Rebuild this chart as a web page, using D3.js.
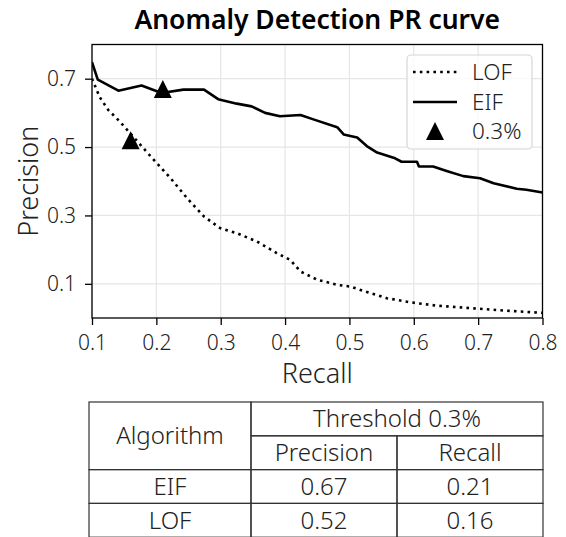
<!DOCTYPE html>
<html>
<head>
<meta charset="UTF-8">
<title>Anomaly Detection PR curve</title>
<style>
  body { margin: 0; background: #fff; }
  text { font-family: "Noto Sans", sans-serif; fill: #222; font-weight: 300; }
</style>
</head>
<body>
<div id="chart"></div>
<script src="https://d3js.org/d3.v7.min.js"></script>
<script>
// curves
var eifRecall = [0.100, 0.109, 0.141, 0.177, 0.208, 0.242, 0.274, 0.296, 0.325, 0.348, 0.369, 0.392, 0.424, 0.444, 0.481, 0.491, 0.512, 0.527, 0.543, 0.571, 0.581, 0.605, 0.608, 0.630, 0.651, 0.677, 0.703, 0.724, 0.760, 0.775, 0.800];
var eifPrecision = [0.748, 0.697, 0.665, 0.680, 0.658, 0.668, 0.668, 0.640, 0.627, 0.619, 0.600, 0.590, 0.594, 0.581, 0.558, 0.537, 0.528, 0.503, 0.484, 0.467, 0.457, 0.457, 0.443, 0.443, 0.430, 0.415, 0.409, 0.394, 0.378, 0.375, 0.367];

var lofRecall = [0.100, 0.112, 0.125, 0.143, 0.159, 0.192, 0.222, 0.248, 0.274, 0.299, 0.325, 0.356, 0.387, 0.408, 0.424, 0.450, 0.481, 0.501, 0.532, 0.558, 0.594, 0.636, 0.687, 0.739, 0.800];
var lofPrecision = [0.700, 0.646, 0.609, 0.575, 0.541, 0.471, 0.409, 0.350, 0.297, 0.263, 0.248, 0.224, 0.190, 0.170, 0.136, 0.112, 0.097, 0.092, 0.073, 0.058, 0.046, 0.036, 0.029, 0.022, 0.015];

// threshold 0.3% points (also the table)
var algorithms = ["EIF", "LOF"];
var thrPrecision = [0.67, 0.52];
var thrRecall = [0.21, 0.16];

var xTicks = [0.1, 0.2, 0.3, 0.4, 0.5, 0.6, 0.7, 0.8];
var yTicks = [0.1, 0.3, 0.5, 0.7];
var legendLabels = ["LOF", "EIF", "0.3%"];

var width = 566, height = 537;
var plot = { left: 92, right: 542.5, top: 44.5, bottom: 318 };

var svg = d3.select("#chart").append("svg")
  .attr("width", width)
  .attr("height", height);

var x = d3.scaleLinear().domain([0.1, 0.8]).range([plot.left, plot.right]);
var y = d3.scaleLinear().domain([0, 0.8]).range([plot.bottom, plot.top]);

// title
svg.append("text")
  .attr("x", (plot.left + plot.right) / 2)
  .attr("y", 28.5)
  .attr("text-anchor", "middle")
  .attr("font-size", "26.5px")
  .style("font-weight", 600)
  .style("fill", "#000")
  .text("Anomaly Detection PR curve");

// grid
var grid = svg.append("g").attr("stroke", "#e6e6e6").attr("stroke-width", 1.2);
grid.selectAll("line.gx").data(xTicks).join("line")
  .attr("class", "gx")
  .attr("x1", d => x(d)).attr("x2", d => x(d))
  .attr("y1", plot.top).attr("y2", plot.bottom);
grid.selectAll("line.gy").data(yTicks).join("line")
  .attr("class", "gy")
  .attr("x1", plot.left).attr("x2", plot.right)
  .attr("y1", d => y(d)).attr("y2", d => y(d));

// axes
var xAxis = svg.append("g")
  .attr("transform", "translate(0," + plot.bottom + ")")
  .call(d3.axisBottom(x).tickValues(xTicks).tickFormat(d3.format(".1f")).tickSize(7).tickPadding(10));
var yAxis = svg.append("g")
  .attr("transform", "translate(" + plot.left + ",0)")
  .call(d3.axisLeft(y).tickValues(yTicks).tickFormat(d3.format(".1f")).tickSize(7).tickPadding(9));
[xAxis, yAxis].forEach(function(a) {
  a.select(".domain").remove();
  a.selectAll("line").attr("stroke", "#000").attr("stroke-width", 1.3);
  a.selectAll("text").attr("font-size", "21px").attr("font-family", null);
});

// curves
var lineGen = d3.line().x(d => x(d[0])).y(d => y(d[1]));
var clipId = "plotclip";
svg.append("clipPath").attr("id", clipId).append("rect")
  .attr("x", plot.left).attr("y", plot.top)
  .attr("width", plot.right - plot.left).attr("height", plot.bottom - plot.top);

var curves = svg.append("g").attr("clip-path", "url(#" + clipId + ")");
curves.append("path")
  .datum(d3.zip(lofRecall, lofPrecision))
  .attr("d", lineGen)
  .attr("fill", "none")
  .attr("stroke", "#000")
  .attr("stroke-width", 2.6)
  .attr("stroke-dasharray", "2.6,4.2");
curves.append("path")
  .datum(d3.zip(eifRecall, eifPrecision))
  .attr("d", lineGen)
  .attr("fill", "none")
  .attr("stroke", "#000")
  .attr("stroke-width", 2.6)
  .attr("stroke-linejoin", "round");

// triangle marker like matplotlib '^'
function tri(cx, cy, r) {
  return "M" + cx + "," + (cy - r) + "L" + (cx + r) + "," + (cy + r) + "L" + (cx - r) + "," + (cy + r) + "Z";
}
svg.append("g").selectAll("path")
  .data(d3.zip(thrRecall, thrPrecision))
  .join("path")
  .attr("d", d => tri(x(d[0]), y(d[1]), 9))
  .attr("fill", "#000");

// frame
svg.append("rect")
  .attr("x", plot.left).attr("y", plot.top)
  .attr("width", plot.right - plot.left).attr("height", plot.bottom - plot.top)
  .attr("fill", "none").attr("stroke", "#000").attr("stroke-width", 1.3);

// legend
var lg = svg.append("g");
lg.append("rect")
  .attr("x", 407).attr("y", 55).attr("width", 125).attr("height", 94)
  .attr("rx", 4)
  .attr("fill", "#fff").attr("fill-opacity", 0.8)
  .attr("stroke", "#d6d6d6").attr("stroke-width", 1.2);
var rowY = [72, 102, 131];
lg.append("line").attr("x1", 413).attr("x2", 457).attr("y1", rowY[0]).attr("y2", rowY[0])
  .attr("stroke", "#000").attr("stroke-width", 2.6).attr("stroke-dasharray", "2.6,4.2");
lg.append("line").attr("x1", 413).attr("x2", 457).attr("y1", rowY[1]).attr("y2", rowY[1])
  .attr("stroke", "#000").attr("stroke-width", 2.6);
lg.append("path").attr("d", tri(435, rowY[2], 9)).attr("fill", "#000");
lg.selectAll("text").data(legendLabels).join("text")
  .attr("x", 472)
  .attr("y", (d, i) => rowY[i] + 8)
  .attr("font-size", "22.5px")
  .text(d => d);

// axis labels
svg.append("text")
  .attr("x", (plot.left + plot.right) / 2)
  .attr("y", 383)
  .attr("text-anchor", "middle")
  .attr("font-size", "27px")
  .text("Recall");
svg.append("text")
  .attr("transform", "translate(38," + ((plot.top + plot.bottom) / 2) + ") rotate(-90)")
  .attr("text-anchor", "middle")
  .attr("font-size", "27px")
  .text("Precision");

// table
var colX = [89, 251, 397, 543];
var rowH = 33.8, tTop = 402;
var cells = [
  { c0: 0, c1: 1, r0: 0, r1: 2, text: "Algorithm" },
  { c0: 1, c1: 3, r0: 0, r1: 1, text: "Threshold 0.3%" },
  { c0: 1, c1: 2, r0: 1, r1: 2, text: "Precision" },
  { c0: 2, c1: 3, r0: 1, r1: 2, text: "Recall" }
];
algorithms.forEach(function(a, i) {
  cells.push({ c0: 0, c1: 1, r0: 2 + i, r1: 3 + i, text: a });
  cells.push({ c0: 1, c1: 2, r0: 2 + i, r1: 3 + i, text: d3.format(".2f")(thrPrecision[i]) });
  cells.push({ c0: 2, c1: 3, r0: 2 + i, r1: 3 + i, text: d3.format(".2f")(thrRecall[i]) });
});
var tg = svg.append("g");
tg.selectAll("rect").data(cells).join("rect")
  .attr("x", d => colX[d.c0]).attr("y", d => tTop + d.r0 * rowH)
  .attr("width", d => colX[d.c1] - colX[d.c0])
  .attr("height", d => (d.r1 - d.r0) * rowH)
  .attr("fill", "none").attr("stroke", "#333").attr("stroke-width", 1.2);
tg.selectAll("text").data(cells).join("text")
  .attr("x", d => (colX[d.c0] + colX[d.c1]) / 2)
  .attr("y", d => tTop + (d.r0 + d.r1) / 2 * rowH + 8.5)
  .attr("text-anchor", "middle")
  .attr("font-size", "24px")
  .text(d => d.text);
</script>
</body>
</html>
